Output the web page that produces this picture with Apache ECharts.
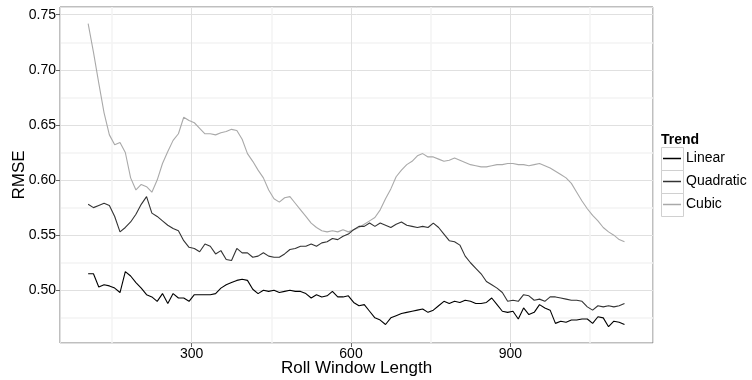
<!DOCTYPE html>
<html>
<head>
<meta charset="utf-8">
<script src="https://cdn.jsdelivr.net/npm/echarts@6/dist/echarts.min.js"></script>
<style>html,body{margin:0;padding:0;background:#fff}#c{width:752px;height:380px}</style>
</head>
<body>
<div id="c"></div>
<script>
var windowLengths = [105,115,125,135,145,155,165,175,185,195,
205,215,225,235,245,255,265,275,285,295,
305,315,325,335,345,355,365,375,385,395,
405,415,425,435,445,455,465,475,485,495,
505,515,525,535,545,555,565,575,585,595,
605,615,625,635,645,655,665,675,685,695,
705,715,725,735,745,755,765,775,785,795,
805,815,825,835,845,855,865,875,885,895,
905,915,925,935,945,955,965,975,985,995,
1005,1015,1025,1035,1045,1055,1065,1075,1085,1095,
1105,1115];

var linear = [0.515,0.515,0.503,0.505,0.504,0.502,0.498,0.517,0.513,0.507,
0.502,0.496,0.494,0.490,0.497,0.488,0.497,0.493,0.493,0.490,
0.496,0.496,0.496,0.496,0.497,0.502,0.505,0.507,0.509,0.510,
0.509,0.501,0.497,0.500,0.499,0.500,0.498,0.499,0.500,0.499,
0.499,0.497,0.493,0.496,0.494,0.495,0.499,0.494,0.494,0.495,
0.489,0.486,0.487,0.481,0.475,0.473,0.469,0.475,0.477,0.479,
0.480,0.481,0.482,0.483,0.480,0.482,0.486,0.490,0.488,0.490,
0.489,0.491,0.490,0.488,0.488,0.489,0.493,0.487,0.481,0.480,
0.481,0.474,0.484,0.478,0.480,0.487,0.484,0.482,0.470,0.472,
0.471,0.473,0.473,0.474,0.474,0.470,0.476,0.475,0.467,0.472,
0.471,0.469];

var quadratic = [0.578,0.575,0.577,0.579,0.577,0.567,0.553,0.557,0.562,0.569,
0.578,0.585,0.570,0.567,0.563,0.559,0.556,0.554,0.545,0.539,
0.538,0.535,0.542,0.540,0.533,0.536,0.528,0.527,0.538,0.534,
0.534,0.530,0.531,0.534,0.531,0.530,0.530,0.533,0.537,0.538,
0.540,0.540,0.542,0.540,0.543,0.544,0.547,0.546,0.549,0.551,
0.555,0.558,0.558,0.561,0.558,0.561,0.559,0.557,0.560,0.562,
0.559,0.558,0.557,0.558,0.557,0.561,0.557,0.551,0.545,0.544,
0.541,0.531,0.525,0.520,0.515,0.508,0.505,0.502,0.498,0.490,
0.491,0.490,0.496,0.495,0.491,0.492,0.490,0.494,0.494,0.493,
0.492,0.491,0.491,0.490,0.485,0.482,0.486,0.485,0.486,0.485,
0.486,0.488];

var cubic = [0.742,0.716,0.688,0.661,0.641,0.632,0.634,0.625,0.602,0.591,
0.596,0.594,0.589,0.600,0.615,0.626,0.636,0.642,0.657,0.654,
0.652,0.647,0.642,0.642,0.641,0.643,0.644,0.646,0.645,0.637,
0.624,0.617,0.609,0.602,0.591,0.583,0.580,0.584,0.585,0.579,
0.573,0.567,0.561,0.557,0.554,0.553,0.554,0.553,0.555,0.553,
0.555,0.557,0.560,0.563,0.566,0.573,0.583,0.592,0.603,0.609,
0.614,0.617,0.622,0.624,0.621,0.621,0.619,0.617,0.618,0.620,
0.618,0.616,0.614,0.613,0.612,0.612,0.613,0.614,0.614,0.615,
0.615,0.614,0.614,0.613,0.614,0.615,0.613,0.611,0.608,0.605,
0.602,0.597,0.589,0.581,0.574,0.568,0.563,0.557,0.553,0.550,
0.546,0.544];

var seriesNames = ['Linear', 'Quadratic', 'Cubic'];
var legendTitle = 'Trend';
var xTitle = 'Roll Window Length';
var yTitle = 'RMSE';

function pairs(vals) {
  return windowLengths.map(function (x, i) { return [x, vals[i]]; });
}

var FONT = 'Liberation Sans, Arial, Helvetica, sans-serif';
var colors = ['#000000', '#333333', '#a9a9a9'];
var seriesVals = [linear, quadratic, cubic];

var chart = echarts.init(document.getElementById('c'), null, {renderer: 'canvas'});
chart.setOption({
  animation: false,
  backgroundColor: '#ffffff',
  textStyle: {fontFamily: FONT},
  grid: {left: 60, right: 99, top: 7, bottom: 37, show: true, borderColor: '#7f7f7f', borderWidth: 1, backgroundColor: '#ffffff',
    containLabel: false, outerBoundsMode: 'none'},
  xAxis: {
    type: 'value', min: 52.0, max: 1168.7, splitNumber: 4,
    name: xTitle, nameLocation: 'middle', nameGap: 17, nameMoveOverlap: false,
    nameTextStyle: {fontSize: 17, color: '#000', fontFamily: FONT},
    axisLine: {show: false},
    axisTick: {show: true, length: 4, lineStyle: {color: '#666'}},
    axisLabel: {margin: 4, fontSize: 14, color: '#000', fontFamily: FONT, showMinLabel: false, showMaxLabel: false,
      formatter: function (v) { return (Math.abs(v % 300) < 1e-6) ? String(v) : ''; }},
    splitLine: {show: true, lineStyle: {color: '#e0e0e0', width: 1}},
    minorTick: {show: false, splitNumber: 2},
    minorSplitLine: {show: true, lineStyle: {color: '#f4f4f4', width: 1.5}}
  },
  yAxis: {
    type: 'value', min: 0.4522, max: 0.757, splitNumber: 6,
    name: yTitle, nameLocation: 'middle', nameGap: 32, nameMoveOverlap: false,
    nameTextStyle: {fontSize: 17, color: '#000', fontFamily: FONT},
    axisLine: {show: false},
    axisTick: {show: true, length: 4, lineStyle: {color: '#666'}},
    axisLabel: {margin: 4, fontSize: 14, color: '#000', fontFamily: FONT, showMinLabel: false, showMaxLabel: false,
      formatter: function (v) { var r = Math.round(v * 100); return (Math.abs(v * 100 - r) < 1e-6 && r % 5 === 0) ? v.toFixed(2) : ''; }},
    splitLine: {show: true, lineStyle: {color: '#e0e0e0', width: 1}},
    minorTick: {show: false, splitNumber: 2},
    minorSplitLine: {show: true, lineStyle: {color: '#f4f4f4', width: 1.5}}
  },
  legend: {
    orient: 'vertical', left: 663, top: 147, padding: 0, itemGap: 0,
    itemWidth: 18, itemHeight: 1.5, icon: 'rect',
    textStyle: {fontSize: 14, lineHeight: 23, color: '#000', fontFamily: FONT},
    data: seriesNames
  },
  graphic: [
    {type: 'text', left: 661, top: 133, style: {text: legendTitle, font: 'bold 14px ' + FONT, fill: '#000'}},
    {type: 'rect', shape: {x: 661.5, y: 147.5, width: 22, height: 23}, style: {fill: 'none', stroke: '#d0d0d0', lineWidth: 1}, z: -1},
    {type: 'rect', shape: {x: 661.5, y: 170.5, width: 22, height: 23}, style: {fill: 'none', stroke: '#d0d0d0', lineWidth: 1}, z: -1},
    {type: 'rect', shape: {x: 661.5, y: 193.5, width: 22, height: 23}, style: {fill: 'none', stroke: '#d0d0d0', lineWidth: 1}, z: -1}
  ],
  series: seriesNames.map(function (n, i) {
    return {
      name: n, type: 'line', data: pairs(seriesVals[i]),
      showSymbol: false, symbol: 'none',
      lineStyle: {color: colors[i], width: 1.1},
      itemStyle: {color: colors[i]},
      z: 3 - i
    };
  })
});
</script>
</body>
</html>
